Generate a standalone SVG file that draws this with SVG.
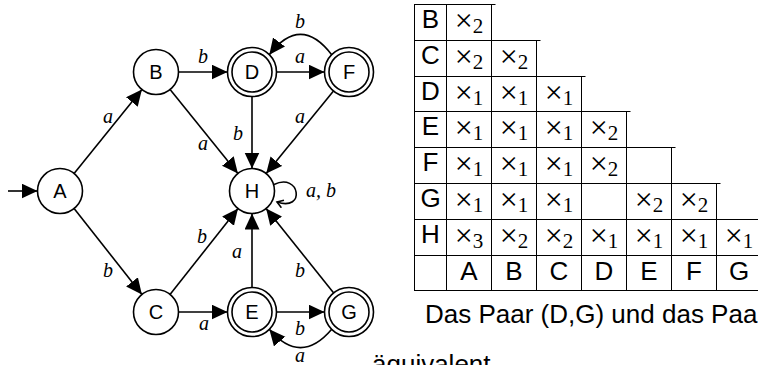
<svg xmlns="http://www.w3.org/2000/svg" width="758" height="365" viewBox="0 0 758 365">
<defs>
<marker id="arr" markerUnits="userSpaceOnUse" markerWidth="17" markerHeight="16" refX="16" refY="7.5" orient="auto"><path d="M0,0 L16,7.5 L0,15 Z" fill="#000"/></marker>
<marker id="hook" markerUnits="userSpaceOnUse" markerWidth="10" markerHeight="10" refX="7" refY="4.5" orient="auto"><path d="M1,0.5 L7,4.5 L1,8.5" fill="none" stroke="#000" stroke-width="1.6"/></marker>
</defs>
<style>
.n{fill:#fff;stroke:#000;stroke-width:1.6}
.nl{font-family:"Liberation Sans",Arial,sans-serif;font-size:20px;text-anchor:middle}
.e{fill:none;stroke:#000;stroke-width:1.6;marker-end:url(#arr)}
.lp{fill:none;stroke:#000;stroke-width:1.6;marker-end:url(#hook)}
.el{font-family:"Liberation Serif","Times New Roman",serif;font-style:italic;font-size:20px;text-anchor:middle}
.tl{stroke:#000;stroke-width:1;fill:none}
.tx{font-family:"Liberation Sans",Arial,sans-serif;font-size:26px;text-anchor:middle}
.tm{font-family:"Liberation Serif","Times New Roman",serif;font-size:32px;text-anchor:middle}
.tm tspan{font-size:21px}
.p{font-family:"Liberation Sans",Arial,sans-serif;font-size:26px}
</style>
<rect width="758" height="365" fill="#fff"/>
<g id="connectors">
<line class="e" x1="8" y1="191" x2="37.5" y2="191"/>
<line class="e" x1="74.1" y1="173.5" x2="141.9" y2="89.5"/>
<line class="e" x1="74.1" y1="208.5" x2="141.9" y2="294.5"/>
<line class="e" x1="178.5" y1="72" x2="227.5" y2="72"/>
<line class="e" x1="170.1" y1="89.5" x2="237.9" y2="173.5"/>
<line class="e" x1="252" y1="96.5" x2="252" y2="168.5"/>
<line class="e" x1="276.5" y1="72" x2="324.5" y2="72"/>
<path class="e" d="M331.7,54.7 Q300.5,14 269.3,54.7"/>
<line class="e" x1="333.5" y1="91" x2="266.2" y2="173.6"/>
<line class="e" x1="170" y1="294.4" x2="238" y2="208.6"/>
<line class="e" x1="178.5" y1="312" x2="227.5" y2="312"/>
<line class="e" x1="252" y1="287.5" x2="252" y2="213.5"/>
<line class="e" x1="276.5" y1="312" x2="324.5" y2="312"/>
<path class="e" d="M331.7,329.3 Q300.5,366 269.3,329.3"/>
<line class="e" x1="333.7" y1="292.9" x2="266.1" y2="208.6"/>
<path class="lp" d="M274,184.5 C300,172 306,212 277,202"/>
<text class="el" x="108" y="123">a</text>
<text class="el" x="108" y="277">b</text>
<text class="el" x="203" y="63">b</text>
<text class="el" x="300" y="63">a</text>
<text class="el" x="300" y="28">b</text>
<text class="el" x="203" y="150">a</text>
<text class="el" x="238" y="140">b</text>
<text class="el" x="300" y="123">a</text>
<text class="el" x="202" y="243">b</text>
<text class="el" x="237" y="258">a</text>
<text class="el" x="300" y="277">b</text>
<text class="el" x="204" y="330">a</text>
<text class="el" x="300" y="335">b</text>
<text class="el" x="300" y="362">a</text>
<text class="el" x="306" y="197" style="text-anchor:start">a, b</text>
</g>
<g id="node-A"><circle class="n" cx="60" cy="191" r="22.5"/><text class="nl" x="60" y="198">A</text></g>
<g id="node-B"><circle class="n" cx="156" cy="72" r="22.5"/><text class="nl" x="156" y="79">B</text></g>
<g id="node-C"><circle class="n" cx="156" cy="312" r="22.5"/><text class="nl" x="156" y="319">C</text></g>
<g id="node-D"><circle class="n" cx="252" cy="72" r="24.5"/><circle class="n" cx="252" cy="72" r="20"/><text class="nl" x="252" y="79">D</text></g>
<g id="node-H"><circle class="n" cx="252" cy="191" r="22.5"/><text class="nl" x="252" y="198">H</text></g>
<g id="node-E"><circle class="n" cx="252" cy="312" r="24.5"/><circle class="n" cx="252" cy="312" r="20"/><text class="nl" x="252" y="319">E</text></g>
<g id="node-F"><circle class="n" cx="349" cy="72" r="24.5"/><circle class="n" cx="349" cy="72" r="20"/><text class="nl" x="349" y="79">F</text></g>
<g id="node-G"><circle class="n" cx="349" cy="312" r="24.5"/><circle class="n" cx="349" cy="312" r="20"/><text class="nl" x="349" y="319">G</text></g>
<g id="table">
<path class="tl" d="M414,4.5H495.5 M414,40.5H540.5 M414,76.5H585.5 M414,111.5H630.5 M414,147.5H675.5 M414,183.5H720.5 M414,219.5H758 M414,255.5H758 M414,290.5H758"/>
<path class="tl" d="M414.5,4V291 M446.5,4V291 M491.5,4V291 M536.5,40V291 M581.5,76V291 M626.5,111V291 M671.5,147V291 M716.5,183V291"/>
<text class="tx" x="430.5" y="28">B</text>
<text class="tx" x="430.5" y="64">C</text>
<text class="tx" x="430.5" y="100">D</text>
<text class="tx" x="430.5" y="135">E</text>
<text class="tx" x="430.5" y="171">F</text>
<text class="tx" x="430.5" y="207">G</text>
<text class="tx" x="430.5" y="243">H</text>
<text class="tx" x="469" y="280">A</text>
<text class="tx" x="514" y="280">B</text>
<text class="tx" x="559" y="280">C</text>
<text class="tx" x="604" y="280">D</text>
<text class="tx" x="649" y="280">E</text>
<text class="tx" x="694" y="280">F</text>
<text class="tx" x="739" y="280">G</text>
<text class="tm" x="469" y="31">×<tspan dy="2">2</tspan></text>
<text class="tm" x="469" y="67">×<tspan dy="2">2</tspan></text>
<text class="tm" x="514" y="67">×<tspan dy="2">2</tspan></text>
<text class="tm" x="469" y="103">×<tspan dy="2">1</tspan></text>
<text class="tm" x="514" y="103">×<tspan dy="2">1</tspan></text>
<text class="tm" x="559" y="103">×<tspan dy="2">1</tspan></text>
<text class="tm" x="469" y="138">×<tspan dy="2">1</tspan></text>
<text class="tm" x="514" y="138">×<tspan dy="2">1</tspan></text>
<text class="tm" x="559" y="138">×<tspan dy="2">1</tspan></text>
<text class="tm" x="604" y="138">×<tspan dy="2">2</tspan></text>
<text class="tm" x="469" y="174">×<tspan dy="2">1</tspan></text>
<text class="tm" x="514" y="174">×<tspan dy="2">1</tspan></text>
<text class="tm" x="559" y="174">×<tspan dy="2">1</tspan></text>
<text class="tm" x="604" y="174">×<tspan dy="2">2</tspan></text>
<text class="tm" x="469" y="210">×<tspan dy="2">1</tspan></text>
<text class="tm" x="514" y="210">×<tspan dy="2">1</tspan></text>
<text class="tm" x="559" y="210">×<tspan dy="2">1</tspan></text>
<text class="tm" x="649" y="210">×<tspan dy="2">2</tspan></text>
<text class="tm" x="694" y="210">×<tspan dy="2">2</tspan></text>
<text class="tm" x="469" y="246">×<tspan dy="2">3</tspan></text>
<text class="tm" x="514" y="246">×<tspan dy="2">2</tspan></text>
<text class="tm" x="559" y="246">×<tspan dy="2">2</tspan></text>
<text class="tm" x="604" y="246">×<tspan dy="2">1</tspan></text>
<text class="tm" x="649" y="246">×<tspan dy="2">1</tspan></text>
<text class="tm" x="694" y="246">×<tspan dy="2">1</tspan></text>
<text class="tm" x="739" y="246">×<tspan dy="2">1</tspan></text>
</g>
<g id="caption">
<text class="p" x="425" y="323">Das Paar (D,G) und das Paa</text>
<text class="p" x="372" y="373">äquivalent</text>
</g>
</svg>
